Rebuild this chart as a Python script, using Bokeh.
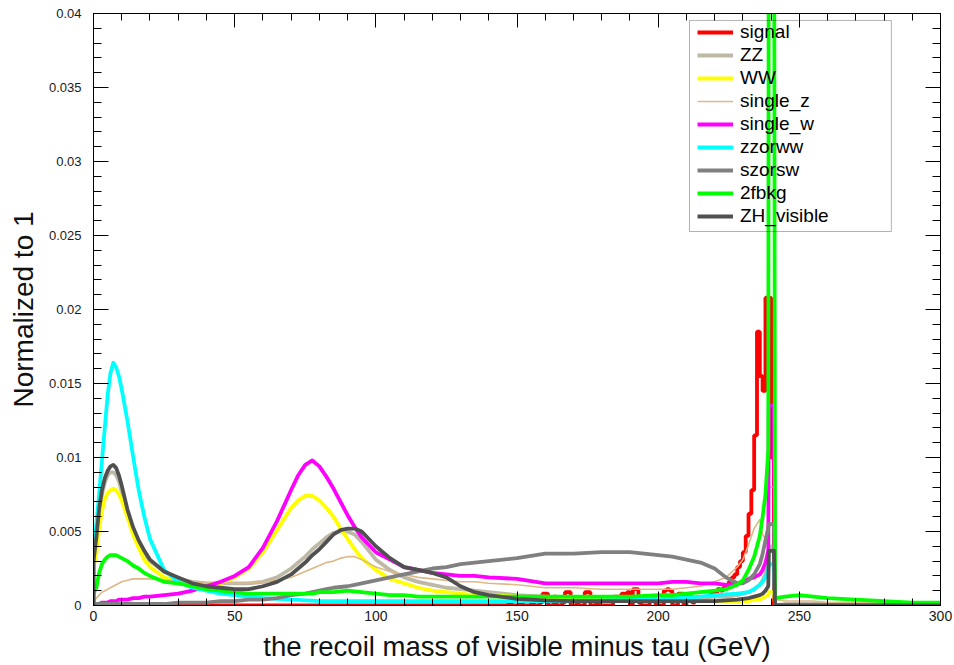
from bokeh.plotting import figure
from bokeh.models import (Range1d, FixedTicker, LinearAxis, CustomJSTickFormatter,
                          Legend, LegendItem, BoxAnnotation)
from bokeh.embed import file_html
from bokeh.resources import INLINE

# ---------------- data ----------------
X = [0, 0, 1, 2, 3, 4, 5, 6, 7, 8, 9, 10, 12, 14, 16, 18, 20,
     25, 30, 35, 40, 45, 50, 55, 60, 65, 70, 72.5, 75, 77.5, 80, 82.5, 85, 87.5, 90, 92.5, 95, 100,
     105, 110, 115, 120, 125, 130, 135, 140, 150, 160, 170, 180, 190, 200,
     205, 210, 215, 220, 224, 228, 230, 232, 234, 236, 237, 238, 239,
     239.2, 241.0, 241.4, 245, 250, 255, 260, 270, 280, 290, 300]

ZZ = [0, 0.0028, 0.0044, 0.0062, 0.0075, 0.0083, 0.0088, 0.0090, 0.0090, 0.0088, 0.0084, 0.0077, 0.0062, 0.0051, 0.0042, 0.0035, 0.0030,
      0.0023, 0.0018, 0.0016, 0.0015, 0.0015, 0.0015, 0.0015, 0.0016, 0.0019, 0.0025, 0.0029, 0.0033, 0.0038, 0.0042, 0.0046, 0.0049, 0.0050, 0.0050, 0.0048, 0.0043, 0.0031,
      0.0024, 0.0019, 0.0016, 0.0014, 0.0012, 0.0011, 0.0010, 0.0009, 0.0007, 0.0006, 0.0005, 0.0005, 0.0005, 0.0005,
      0.0005, 0.0005, 0.0005, 0.0006, 0.0006, 0.0007, 0.0008, 0.0009, 0.0011, 0.0014, 0.0017, 0.0021, 0.0028,
      0.0040, 0.0040, 0, 0.0001, 0.0001, 0.0001, 0.0001, 0, 0, 0, 0]

WW = [0, 0.0026, 0.0035, 0.0052, 0.0064, 0.0072, 0.0076, 0.0078, 0.0079, 0.0078, 0.0075, 0.0071, 0.0060, 0.0048, 0.0039, 0.0031, 0.0026,
      0.0019, 0.0016, 0.0014, 0.0014, 0.0015, 0.0019, 0.0025, 0.0036, 0.0051, 0.0066, 0.0071, 0.0074, 0.0074, 0.0071, 0.0066, 0.0060, 0.0052, 0.0045, 0.0038, 0.0032, 0.0024,
      0.0018, 0.0015, 0.0012, 0.0010, 0.0009, 0.0008, 0.0007, 0.0007, 0.0006, 0.0005, 0.0005, 0.0004, 0.0004, 0.0004,
      0.0003, 0.0003, 0.0003, 0.0003, 0.0003, 0.0003, 0.0003, 0.0003, 0.0004, 0.0004, 0.0005, 0.0006, 0.0007,
      0.0009, 0.0009, 0, 0, 0, 0, 0, 0, 0, 0, 0]

SINGLE_Z = [0, 0.0002, 0.0005, 0.0007, 0.0009, 0.0010, 0.0011, 0.0012, 0.0013, 0.0014, 0.0015, 0.0016, 0.0017, 0.0018, 0.0018, 0.0018, 0.0018,
            0.0017, 0.0017, 0.0016, 0.0015, 0.0015, 0.0015, 0.0015, 0.0016, 0.0017, 0.0019, 0.0021, 0.0023, 0.0025, 0.0027, 0.0029, 0.0030, 0.0032, 0.0033, 0.0033, 0.0031, 0.0026,
            0.0023, 0.0021, 0.0019, 0.0018, 0.0017, 0.0016, 0.0016, 0.0015, 0.0014, 0.0012, 0.0012, 0.0011, 0.0011, 0.0011,
            0.0011, 0.0012, 0.0013, 0.0016, 0.0019, 0.0026, 0.0031, 0.0041, 0.0052, 0.0058, 0.0048, 0.0045, 0.0060,
            0.0080, 0.0080, 0.0004, 0.0003, 0.0003, 0.0003, 0.0002, 0.0002, 0.0002, 0.0002, 0.0002]

SINGLE_W = [0, 0.0001, 0.0001, 0.0001, 0.0002, 0.0002, 0.0002, 0.0003, 0.0003, 0.0003, 0.0004, 0.0004, 0.0004, 0.0005, 0.0005, 0.0006, 0.0006,
            0.0007, 0.0008, 0.0010, 0.0013, 0.0016, 0.0020, 0.0026, 0.0039, 0.0057, 0.0078, 0.0088, 0.0095, 0.0098, 0.0094, 0.0087, 0.0079, 0.0070, 0.0061, 0.0053, 0.0046, 0.0036,
            0.0031, 0.0026, 0.0024, 0.0022, 0.0021, 0.0020, 0.0020, 0.0019, 0.0018, 0.0015, 0.0015, 0.0015, 0.0015, 0.0015,
            0.0016, 0.0016, 0.0015, 0.0015, 0.0014, 0.0015, 0.0016, 0.0018, 0.0019, 0.0021, 0.0024, 0.0029, 0.0037,
            0.0135, 0.0135, 0, 0, 0, 0, 0, 0, 0, 0, 0]

ZZORWW = [0, 0.0035, 0.0055, 0.0075, 0.0098, 0.0120, 0.0142, 0.0157, 0.0164, 0.0161, 0.0155, 0.0146, 0.0125, 0.0101, 0.0078, 0.0060, 0.0045,
          0.0024, 0.0016, 0.0012, 0.0010, 0.0008, 0.0007, 0.0006, 0.0005, 0.00045, 0.0004, 0.00038, 0.00035, 0.00033, 0.0003, 0.0003, 0.0003, 0.0003, 0.0003, 0.0003, 0.0003, 0.0003,
          0.0003, 0.0003, 0.0003, 0.0003, 0.0003, 0.0003, 0.0003, 0.0003, 0.0003, 0.0003, 0.00032, 0.00035, 0.0004, 0.00045,
          0.0005, 0.00055, 0.0006, 0.0007, 0.00075, 0.0008, 0.00085, 0.0009, 0.0011, 0.0014, 0.0016, 0.0019, 0.0024,
          0.0028, 0.0028, 0, 0, 0, 0, 0, 0, 0, 0, 0]

SZORSW = [0, 0.0001, 0.0001, 0.0001, 0.0001, 0.0001, 0.0001, 0.0001, 0.0001, 0.0001, 0.0001, 0.0001, 0.0001, 0.0001, 0.0001, 0.0001, 0.0001,
          0.0001, 0.0002, 0.0002, 0.0002, 0.0003, 0.0003, 0.0004, 0.0004, 0.0005, 0.0007, 0.00075, 0.0008, 0.0009, 0.0010, 0.0011, 0.0012, 0.00125, 0.0013, 0.0014, 0.0015, 0.0017,
          0.0019, 0.0021, 0.0023, 0.0025, 0.0026, 0.0028, 0.0029, 0.0030, 0.0032, 0.0035, 0.0035, 0.0036, 0.0036, 0.0034,
          0.0033, 0.0031, 0.0029, 0.0025, 0.0019, 0.0015, 0.0015, 0.0017, 0.0021, 0.0028, 0.0035, 0.0044, 0.0052,
          0.0055, 0.0055, 0, 0, 0, 0, 0, 0, 0, 0, 0]

FBKG2 = [0, 0.0008, 0.0012, 0.0022, 0.0028, 0.0031, 0.0033, 0.0034, 0.0034, 0.0034, 0.0033, 0.0032, 0.0030, 0.0027, 0.0025, 0.0022, 0.0020,
         0.0016, 0.0015, 0.0013, 0.0011, 0.0010, 0.0009, 0.0008, 0.0008, 0.0008, 0.0008, 0.0008, 0.0008, 0.0008, 0.0009, 0.0009, 0.0009, 0.00095, 0.0010, 0.00095, 0.0009, 0.0008,
         0.0007, 0.0007, 0.0006, 0.0006, 0.0006, 0.0006, 0.0006, 0.0006, 0.0006, 0.0006, 0.0006, 0.0006, 0.0006, 0.0007,
         0.0007, 0.0008, 0.0009, 0.0010, 0.0011, 0.0014, 0.0017, 0.0024, 0.0033, 0.0047, 0.0060, 0.0075, 0.0105,
         0.0600, 0.0600, 0.0005, 0.0006, 0.0007, 0.0006, 0.0005, 0.0004, 0.0003, 0.0002, 0.0002]

ZH_VISIBLE = [0, 0.0030, 0.0046, 0.0065, 0.0078, 0.0086, 0.0091, 0.0094, 0.0095, 0.0093, 0.0088, 0.0081, 0.0065, 0.0053, 0.0044, 0.0037, 0.0031,
              0.0023, 0.0019, 0.0015, 0.0013, 0.0012, 0.0011, 0.0011, 0.0013, 0.0016, 0.0021, 0.0025, 0.0029, 0.0034, 0.0038, 0.0043, 0.0048, 0.0051, 0.0052, 0.0052, 0.0050, 0.0040,
              0.0032, 0.0026, 0.0024, 0.0022, 0.0019, 0.0013, 0.0009, 0.0007, 0.00045, 0.00035, 0.0003, 0.0003, 0.0003, 0.0003,
              0.0003, 0.0003, 0.0003, 0.0003, 0.00035, 0.0004, 0.00045, 0.0005, 0.0006, 0.0007, 0.0008, 0.0010, 0.0013,
              0.0037, 0.0037, 0, 0, 0, 0, 0, 0, 0, 0, 0]

# signal histogram: 1 GeV bins over 0..300, only non-empty bins listed
SIGNAL_BIN_LO = [147, 151, 155, 158, 159, 160, 163, 166, 167, 168, 171, 174, 175, 178,
                 184, 185, 186, 187, 188, 189, 191, 192, 193, 197, 198, 199, 202, 203, 204,
                 207, 208, 210, 211, 212, 213, 214, 215, 216, 217, 218, 219, 220, 221, 222,
                 223, 224, 225, 226, 227, 228, 229, 230, 231, 232, 233, 234, 235, 236, 237,
                 238, 239, 240]
SIGNAL_VAL = [0.0002, 0.0002, 0.0002, 0.0002, 0.0008, 0.0008, 0.0006, 0.0002, 0.0009, 0.0009, 0.0001, 0.0009, 0.0009, 0.0002,
              0.0006, 0.0006, 0.0006, 0.0008, 0.0008, 0.0009, 0.0011, 0.0011, 0.0002, 0.0006, 0.0006, 0.0001, 0.0010, 0.0011, 0.0010,
              0.0008, 0.0008, 0.0006, 0.0006, 0.0002, 0.0004, 0.0003, 0.0005, 0.0003, 0.0006, 0.0007, 0.0008, 0.0009, 0.0011, 0.0010,
              0.0012, 0.0013, 0.0016, 0.0019, 0.0021, 0.0026, 0.0030, 0.0036, 0.0047, 0.0062, 0.0078, 0.0115, 0.0185, 0.0155, 0.0145,
              0.0208, 0.0208, 0.0100]

X_TICKS = [0, 50, 100, 150, 200, 250, 300]
X_MINOR = list(range(0, 301, 10))
Y_TICKS = [0, 0.005, 0.01, 0.015, 0.02, 0.025, 0.03, 0.035, 0.04]
Y_MINOR = [i * 0.001 for i in range(41)]

# ---------------- figure ----------------
FONT = "Liberation Sans"
p = figure(width=954, height=665, output_backend="svg", toolbar_location=None,
           x_range=Range1d(0, 300), y_range=Range1d(0, 0.04),
           min_border_left=93, min_border_right=14, min_border_top=13, min_border_bottom=60)
p.xgrid.visible = False
p.ygrid.visible = False
p.outline_line_color = "black"
p.outline_line_width = 1
p.background_fill_color = "white"
p.border_fill_color = "white"

def style_axis(ax, ticks, minor, maj_len, min_len, labels=True, size="14px", standoff=5):
    ax.ticker = FixedTicker(ticks=ticks, minor_ticks=minor)
    ax.major_tick_in = maj_len
    ax.major_tick_out = 0
    ax.minor_tick_in = min_len
    ax.minor_tick_out = 0
    ax.axis_line_color = "black"
    ax.major_tick_line_color = "black"
    ax.minor_tick_line_color = "black"
    ax.major_label_text_font = FONT
    ax.major_label_text_color = "#1a1a1a"
    ax.major_label_standoff = standoff
    if labels:
        ax.major_label_text_font_size = size
    else:
        ax.major_label_text_font_size = "0px"
        ax.major_label_text_alpha = 0

xa = p.xaxis[0]
style_axis(xa, X_TICKS, X_MINOR, 14, 7, size="14px", standoff=5)
xa.axis_label = "the recoil mass of visible minus tau (GeV)"
xa.axis_label_text_font = FONT
xa.axis_label_text_font_size = "27.5px"
xa.axis_label_text_font_style = "normal"
xa.axis_label_text_color = "#111111"
xa.axis_label_standoff = 7

ya = p.yaxis[0]
style_axis(ya, Y_TICKS, Y_MINOR, 15, 8, size="13px", standoff=12)
ya.formatter = CustomJSTickFormatter(code="return tick == 0 ? '0' : String(parseFloat(tick.toFixed(4)));")
ya.axis_label = "Normalized to 1"
ya.axis_label_text_font = FONT
ya.axis_label_text_font_size = "28px"
ya.axis_label_text_font_style = "normal"
ya.axis_label_text_color = "#111111"
ya.axis_label_standoff = 7

top = LinearAxis()
style_axis(top, X_TICKS, X_MINOR, 14, 7, labels=False, standoff=0)
p.add_layout(top, "above")
right = LinearAxis()
style_axis(right, Y_TICKS, Y_MINOR, 15, 8, labels=False, standoff=0)
p.add_layout(right, "right")

# ---------------- histograms ----------------
centers = [i + 0.5 for i in range(300)]
signal = [0.0] * 300
for lo, v in zip(SIGNAL_BIN_LO, SIGNAL_VAL):
    signal[lo] = v

LW = 3.8
r_sig = p.step(x=centers, y=signal, mode="center", line_color="#ff0000", line_width=LW)
r_dot = p.scatter(x=[], y=[], size=3, color="black")

series = [
    ("ZZ", ZZ, "#bdb9a6", LW),
    ("WW", WW, "#ffff00", LW),
    ("single_z", SINGLE_Z, "#deb887", 1.6),
    ("single_w", SINGLE_W, "#ff00ff", LW),
    ("zzorww", ZZORWW, "#00ffff", LW),
    ("szorsw", SZORSW, "#808080", LW),
    ("2fbkg", FBKG2, "#00ff00", LW),
    ("ZH_visible", ZH_VISIBLE, "#505050", LW),
]
items = [LegendItem(label="signal", renderers=[r_sig, r_dot])]
for name, ys, col, lw in series:
    assert len(ys) == len(X), name
    r = p.line(x=X, y=ys, line_color=col, line_width=lw, line_join="round")
    items.append(LegendItem(label=name, renderers=[r]))

# legend frame (ROOT TLegend box)
box = BoxAnnotation(left=211.1, right=282.6, top=0.03953, bottom=0.02527,
                    fill_alpha=0, line_color="black", line_width=1)
p.add_layout(box)

legend = Legend(items=items, location=(604, 378), orientation="vertical",
                glyph_width=36, glyph_height=20, label_height=20, spacing=1,
                padding=0, margin=0, label_standoff=7,
                label_text_font=FONT, label_text_font_size="19px", label_text_color="black",
                background_fill_alpha=0, border_line_alpha=0)
p.add_layout(legend, "center")

open("out.html", "w").write(file_html(p, INLINE))
